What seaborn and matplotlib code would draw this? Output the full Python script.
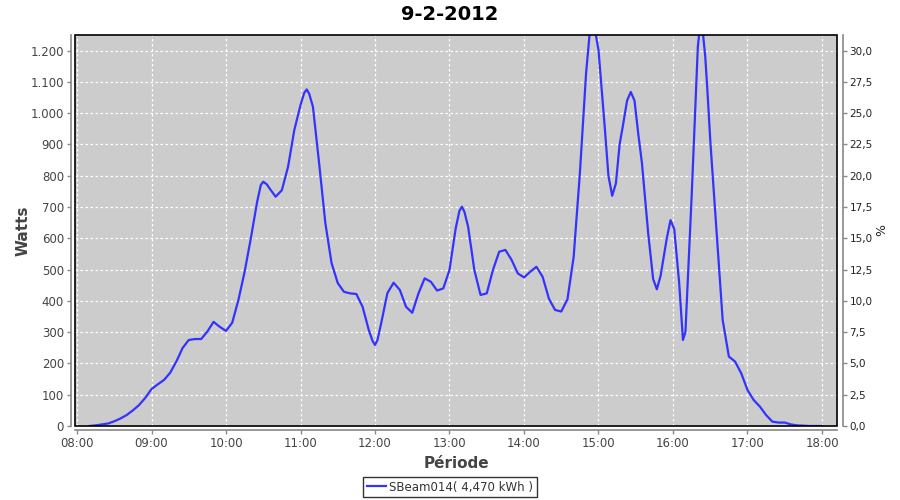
import matplotlib
matplotlib.use("Agg")
import matplotlib.pyplot as plt
from matplotlib.ticker import FuncFormatter, MultipleLocator
from matplotlib.patches import Rectangle
from matplotlib.lines import Line2D
import seaborn as sns
import pandas as pd

# ---- data ----
times = ["08:10", "08:15", "08:20", "08:25", "08:30", "08:35", "08:40", "08:45", "08:50", "08:55",
         "09:00", "09:05", "09:10", "09:15", "09:20", "09:25", "09:30", "09:35", "09:40", "09:45",
         "09:50", "09:55", "10:00", "10:05", "10:10", "10:15", "10:20", "10:25", "10:28", "10:30",
         "10:33", "10:35", "10:40", "10:45", "10:50", "10:55", "11:00", "11:03", "11:05", "11:07",
         "11:10", "11:15", "11:20", "11:25", "11:30", "11:35", "11:40", "11:45", "11:50", "11:55",
         "11:58", "12:00", "12:02", "12:05", "12:10", "12:15", "12:20", "12:25", "12:30", "12:35",
         "12:40", "12:45", "12:50", "12:55", "13:00", "13:05", "13:08", "13:10", "13:12", "13:15",
         "13:20", "13:25", "13:30", "13:35", "13:40", "13:45", "13:50", "13:55", "14:00", "14:05",
         "14:10", "14:15", "14:20", "14:25", "14:30", "14:35", "14:40", "14:45", "14:50", "14:53",
         "14:55", "14:57", "15:00", "15:05", "15:08", "15:11", "15:14", "15:17", "15:20", "15:23",
         "15:26", "15:29", "15:32", "15:35", "15:40", "15:44", "15:47", "15:50", "15:55", "15:58",
         "16:01", "16:05", "16:08", "16:10", "16:15", "16:20", "16:22", "16:24", "16:26", "16:28",
         "16:30", "16:35", "16:40", "16:45", "16:50", "16:55", "17:00", "17:05", "17:10", "17:15",
         "17:20", "17:25", "17:30", "17:35", "17:40", "17:45", "17:50", "17:55", "18:00"]
watts = [0, 2, 5, 8, 15, 24, 35, 50, 67, 90,
         118, 133, 147, 170, 206, 249, 275, 278, 278, 302,
         333, 317, 304, 330, 403, 493, 600, 715, 770, 781,
         772, 760, 733, 754, 829, 946, 1026, 1065, 1076, 1062,
         1021, 840, 649, 521, 457, 429, 424, 422, 381, 307,
         272, 259, 275, 329, 425, 458, 435, 381, 362, 424,
         472, 461, 433, 440, 499, 632, 688, 701, 685, 637,
         499, 419, 424, 499, 557, 563, 531, 488, 475, 493,
         509, 477, 408, 371, 366, 405, 541, 808, 1128, 1260,
         1300, 1270, 1202, 957, 800, 736, 775, 900, 968, 1040,
         1068, 1040, 935, 840, 617, 470, 437, 480, 600, 658,
         630, 456, 275, 300, 733, 1212, 1290, 1260, 1180, 1053,
         914, 627, 339, 222, 206, 168, 115, 83, 62, 35,
         14, 11, 11, 5, 2, 1, 0, 0, 0]
hour_ticks = [8, 9, 10, 11, 12, 13, 14, 15, 16, 17, 18]
series_label = "SBeam014( 4,470 kWh )"
title = "9-2-2012"

hours = [int(t[:2]) + int(t[3:]) / 60 for t in times]
df = pd.DataFrame({"hour": hours, "watts": watts})

# ---- style ----
plt.rcParams["font.family"] = ["DejaVu Sans"]
tick_color = "#444444"
axis_gray = "#888888"

fig = plt.figure(figsize=(9, 5), dpi=100)
ax = fig.add_axes([75 / 900, 74 / 500, 762 / 900, 391 / 500])
ax.set_facecolor("#cccccc")

sns.lineplot(data=df, x="hour", y="watts", ax=ax, color="#3333ff", linewidth=1.6, legend=False)

ax.set_xlim(8 - 2 / 74.5, 18 + 15 / 74.5)
ax.set_ylim(0, 1250)
ax.set_xticks(hour_ticks)
ax.xaxis.set_major_formatter(FuncFormatter(lambda v, p: f"{int(round(v)):02d}:00"))
ax.yaxis.set_major_locator(MultipleLocator(100))
ax.yaxis.set_major_formatter(FuncFormatter(lambda v, p: f"{int(v):,}".replace(",", ".")))

ax.grid(True, color="white", linestyle=(0, (2, 2)), linewidth=0.9)
ax.set_axisbelow(True)

for s in ["top", "right"]:
    ax.spines[s].set_visible(False)
for s in ["left", "bottom"]:
    ax.spines[s].set_position(("outward", 3))
    ax.spines[s].set_color(axis_gray)
    ax.spines[s].set_linewidth(1.2)

ax.tick_params(axis="both", colors=axis_gray, labelcolor=tick_color, labelsize=8.5,
               length=3, width=1, pad=2)

ax.set_xlabel("Période", fontsize=11, fontweight="bold", color="#444444", labelpad=4)
ax.set_ylabel("Watts", fontsize=11, fontweight="bold", color="#444444", labelpad=0)

# right axis (percent)
ax2 = ax.twinx()
ax2.set_ylim(0, 1250 / 40)
ax2.yaxis.set_major_locator(MultipleLocator(2.5))
ax2.yaxis.set_major_formatter(FuncFormatter(lambda v, p: f"{v:.1f}".replace(".", ",")))
for s in ["top", "left", "bottom"]:
    ax2.spines[s].set_visible(False)
ax2.spines["right"].set_position(("outward", 4))
ax2.spines["right"].set_color(axis_gray)
ax2.spines["right"].set_linewidth(1.2)
ax2.tick_params(axis="y", colors=axis_gray, labelcolor="#222222", labelsize=7.5,
                length=3, width=1, pad=2)
ax2.set_ylabel("%", fontsize=9, color="#222222", labelpad=2)

# plot outline
ax.add_patch(Rectangle((0, 0), 1, 1, transform=ax.transAxes, fill=False,
                       edgecolor="black", linewidth=1.2, clip_on=False, zorder=5))

fig.suptitle(title, x=0.5, y=1 - 14 / 500, va="center", fontsize=14, fontweight="bold")

handle = Line2D([], [], color="#3333ff", linewidth=1.6)
leg = fig.legend([handle], [series_label], loc="center", bbox_to_anchor=(450 / 900, 1 - 487 / 500),
                 frameon=True, fancybox=False, shadow=False, fontsize=8.5,
                 handlelength=1.6, handletextpad=0.3, borderpad=0.3, borderaxespad=0)
leg.get_frame().set_edgecolor("black")
leg.get_frame().set_linewidth(1.0)
for t in leg.get_texts():
    t.set_color("#333333")

fig.savefig("out.png", dpi=100)
